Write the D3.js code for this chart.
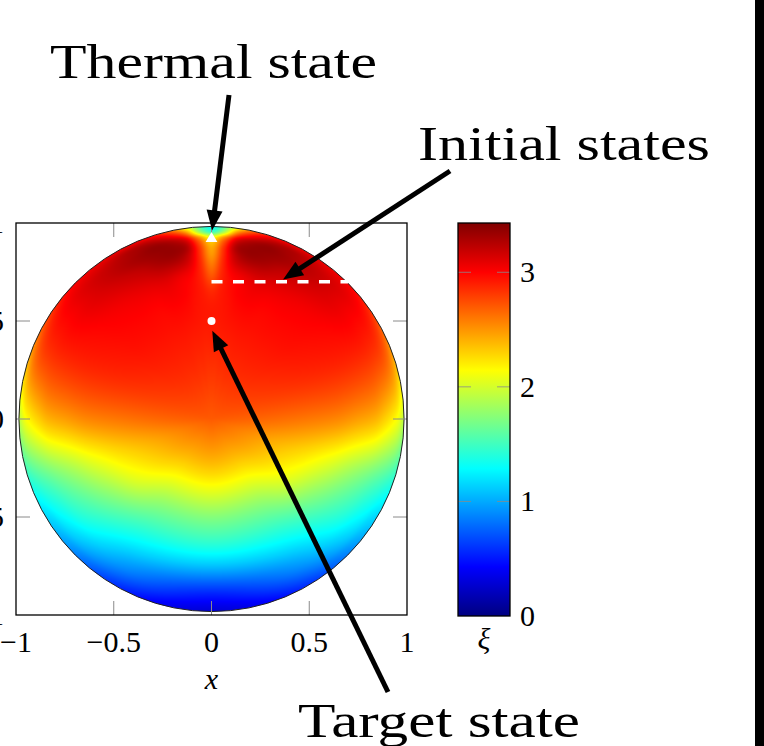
<!DOCTYPE html>
<html>
<head>
<meta charset="utf-8">
<script src="https://cdn.jsdelivr.net/npm/d3@7/dist/d3.min.js"></script>
<style>
html, body { margin: 0; padding: 0; background: #fff; overflow: hidden; }
svg { display: block; }
</style>
</head>
<body>
<svg class="chart"></svg>
<script>
//
// Cost landscape xi over the Bloch disc, drawn with D3 (image + SVG overlays).
//

// xi on a polar grid about the disc centre.
// Angle in degrees measured from the top (+y), mirrored for x < 0; radius as a fraction of the disc radius.
var gridAngles = [0, 4, 8, 12, 18, 25, 35, 50, 70, 90, 110, 130, 150, 180];
var gridRadii = [0, 0.25, 0.5, 0.65, 0.75, 0.85, 0.9, 0.94, 0.97, 1.0];
var xiGrid = [
    [2.70, 2.83, 2.92, 2.88, 2.70, 2.50, 2.40, 2.15, 1.50, 1.30], //   0 deg
    [2.70, 2.83, 2.92, 2.92, 2.88, 2.85, 2.80, 2.55, 1.90, 1.60], //   4
    [2.70, 2.84, 2.93, 2.96, 3.00, 3.18, 3.25, 3.05, 2.60, 2.10], //   8
    [2.70, 2.84, 2.94, 3.00, 3.05, 3.30, 3.35, 3.25, 2.95, 2.55], //  12
    [2.70, 2.85, 2.95, 3.02, 3.10, 3.30, 3.35, 3.35, 3.20, 2.90], //  18
    [2.70, 2.85, 2.95, 3.00, 3.08, 3.22, 3.30, 3.30, 3.25, 3.00], //  25
    [2.70, 2.85, 2.95, 3.00, 3.05, 3.15, 3.20, 3.20, 3.15, 3.05], //  35
    [2.70, 2.83, 2.93, 2.97, 3.00, 3.05, 3.05, 3.05, 3.02, 2.95], //  50
    [2.70, 2.77, 2.83, 2.85, 2.85, 2.83, 2.80, 2.75, 2.65, 2.45], //  70
    [2.70, 2.66, 2.60, 2.55, 2.48, 2.40, 2.30, 2.20, 2.10, 1.90], //  90
    [2.70, 2.50, 2.27, 2.06, 1.88, 1.70, 1.60, 1.52, 1.45, 1.38], // 110
    [2.70, 2.41, 2.03, 1.71, 1.52, 1.34, 1.22, 1.12, 1.02, 0.95], // 130
    [2.70, 2.34, 1.78, 1.47, 1.25, 1.00, 0.88, 0.76, 0.66, 0.56], // 150
    [2.70, 2.34, 1.75, 1.42, 1.12, 0.74, 0.56, 0.44, 0.35, 0.28]  // 180
];

var xTicks = [-1, -0.5, 0, 0.5, 1];
var yTicks = [-1, -0.5, 0, 0.5, 1];
var colorTicks = [0, 1, 2, 3];
var xiMax = 3.43;
var discRadius = 0.985;

var thermalState = [0, 0.92];
var targetState = [0, 0.5];
var initialStates = [[0, 0.7], [0.7, 0.7]];

var jetStops = [0, 0.125, 0.375, 0.625, 0.875, 1];
var jetColors = ["#000080", "#0000ff", "#00ffff", "#ffff00", "#ff0000", "#800000"];

var labelTexts = ["Thermal state", "Initial states", "Target state"];

function fmt (v) { // TeX-like tick labels with a real minus sign.
    return (v < 0 ? "\u2212" : "") + Math.abs(v);
}

function hermite (xs, vs, t, flatEnds) { // Smooth cubic through the grid values (flat ends for the mirrored angle axis).
    var n = xs.length;
    var i = Math.max(0, Math.min(n - 2, d3.bisectRight(xs, t) - 1));
    var h = xs[i + 1] - xs[i];
    var s = Math.max(0, Math.min(1, (t - xs[i]) / h));
    function slope (k) {
        if (k <= 0) return flatEnds ? 0 : (vs[1] - vs[0]) / (xs[1] - xs[0]);
        if (k >= n - 1) return flatEnds ? 0 : (vs[n - 1] - vs[n - 2]) / (xs[n - 1] - xs[n - 2]);
        return (vs[k + 1] - vs[k - 1]) / (xs[k + 1] - xs[k - 1]);
    }
    var m0 = slope(i) * h, m1 = slope(i + 1) * h;
    var s2 = s * s, s3 = s2 * s;
    return (2 * s3 - 3 * s2 + 1) * vs[i] + (s3 - 2 * s2 + s) * m0 +
        (-2 * s3 + 3 * s2) * vs[i + 1] + (s3 - s2) * m1;
}

function xiAt (angle, rho) { // Along the radius for each angle row, then across the angles.
    var col = xiGrid.map(function (row) { return hermite(gridRadii, row, rho, false); });
    return hermite(gridAngles, col, angle, true);
}

window.onload = function () {

    var width = 764, height = 746;

    var svg = d3.select("svg.chart")
        .attr("width", width)
        .attr("height", height)
        .style("font-family", "'Liberation Serif', 'DejaVu Serif', serif");

    var x = d3.scaleLinear().domain([-1, 1]).range([16, 407]);
    var y = d3.scaleLinear().domain([-1, 1]).range([615, 223]);
    var c = d3.scaleLinear().domain([0, xiMax]).range([616, 223]);

    var color = d3.scaleLinear()
        .domain(jetStops.map(function (t) { return t * xiMax; }))
        .range(jetColors)
        .clamp(true);

    // Field image, computed pixel by pixel from the grid.
    var w = Math.round(x(1) - x(-1)), h = Math.round(y(-1) - y(1));
    var canvas = document.createElement("canvas");
    canvas.width = w; canvas.height = h;
    var ctx = canvas.getContext("2d");
    var img = ctx.createImageData(w, h);
    var lut = d3.range(1024).map(function (k) { return d3.rgb(color(k / 1023 * xiMax)); });
    for (var j = 0; j < h; j++) {
        for (var i = 0; i < w; i++) {
            var px = x.invert(x(-1) + i + 0.5), py = y.invert(y(1) + j + 0.5);
            var rho = Math.hypot(px, py) / discRadius;
            if (rho > 1.03) continue;
            var ang = Math.atan2(Math.abs(px), py) * 180 / Math.PI;
            var v = xiAt(ang, Math.min(rho, 1));
            var col = lut[Math.max(0, Math.min(1023, Math.round(v / xiMax * 1023)))];
            var k = (j * w + i) * 4;
            img.data[k] = col.r; img.data[k + 1] = col.g; img.data[k + 2] = col.b; img.data[k + 3] = 255;
        }
    }
    ctx.putImageData(img, 0, 0);

    var defs = svg.append("defs");
    defs.append("clipPath").attr("id", "disc")
        .append("circle")
            .attr("cx", x(0)).attr("cy", y(0))
            .attr("r", x(discRadius) - x(0));

    svg.append("image")
        .attr("x", x(-1)).attr("y", y(1))
        .attr("width", w).attr("height", h)
        .attr("clip-path", "url(#disc)")
        .attr("href", canvas.toDataURL());

    svg.append("circle") // Disc outline.
        .attr("cx", x(0)).attr("cy", y(0))
        .attr("r", x(discRadius) - x(0))
        .attr("fill", "none")
        .attr("stroke", "#222")
        .attr("stroke-width", 1);

    // Tick marks on all four sides, pgfplots style.
    var tickLen = 14;
    var inner = [-0.5, 0, 0.5];
    var tickG = svg.append("g").attr("stroke", "#8a8a8a").attr("stroke-width", 1);
    inner.forEach(function (t) {
        tickG.append("line").attr("x1", x(t)).attr("x2", x(t)).attr("y1", y(-1)).attr("y2", y(-1) - tickLen);
        tickG.append("line").attr("x1", x(t)).attr("x2", x(t)).attr("y1", y(1)).attr("y2", y(1) + tickLen);
        tickG.append("line").attr("y1", y(t)).attr("y2", y(t)).attr("x1", x(-1)).attr("x2", x(-1) + tickLen);
        tickG.append("line").attr("y1", y(t)).attr("y2", y(t)).attr("x1", x(1)).attr("x2", x(1) - tickLen);
    });

    svg.append("rect") // Axis box.
        .attr("x", x(-1)).attr("y", y(1))
        .attr("width", x(1) - x(-1)).attr("height", y(-1) - y(1))
        .attr("fill", "none")
        .attr("stroke", "#000")
        .attr("stroke-width", 1.3);

    svg.append("g").selectAll("text") // x tick labels.
        .data(xTicks)
        .enter().append("text")
            .attr("x", function (d) { return x(d); })
            .attr("y", 652)
            .attr("text-anchor", "middle")
            .attr("font-size", 30)
            .text(fmt);

    svg.append("g").selectAll("text") // y tick labels, mostly outside the frame on the left as in the source.
        .data(yTicks)
        .enter().append("text")
            .attr("x", 4)
            .attr("y", function (d) { return y(d) + 10; })
            .attr("text-anchor", "end")
            .attr("font-size", 30)
            .text(fmt);

    svg.append("text")
        .attr("x", x(0)).attr("y", 689)
        .attr("text-anchor", "middle")
        .attr("font-size", 30)
        .attr("font-style", "italic")
        .text("x");

    // Initial states (dashed), thermal state (triangle) and target state (dot).
    svg.append("line")
        .attr("x1", x(initialStates[0][0])).attr("y1", y(initialStates[0][1]))
        .attr("x2", x(initialStates[1][0])).attr("y2", y(initialStates[1][1]))
        .attr("stroke", "#fff")
        .attr("stroke-width", 3.5)
        .attr("stroke-dasharray", "11,10.5");

    svg.append("path")
        .attr("d", d3.symbol().type(d3.symbolTriangle).size(60))
        .attr("transform", "translate(" + x(thermalState[0]) + "," + y(thermalState[1]) + ")")
        .attr("fill", "#fff");

    svg.append("circle")
        .attr("cx", x(targetState[0])).attr("cy", y(targetState[1]))
        .attr("r", 4)
        .attr("fill", "#fff");

    // Colour bar.
    var grad = defs.append("linearGradient").attr("id", "jet")
        .attr("x1", 0).attr("y1", 1).attr("x2", 0).attr("y2", 0);
    grad.selectAll("stop")
        .data(jetStops)
        .enter().append("stop")
            .attr("offset", function (d) { return d; })
            .attr("stop-color", function (d, i) { return jetColors[i]; });

    var cbX = 458, cbW = 52;
    svg.append("rect")
        .attr("x", cbX).attr("y", c(xiMax))
        .attr("width", cbW).attr("height", c(0) - c(xiMax))
        .attr("fill", "url(#jet)");

    var cbTicks = svg.append("g").attr("stroke", "#8a8a8a").attr("stroke-width", 1).attr("stroke-opacity", 0.8);
    colorTicks.slice(1).forEach(function (t) {
        cbTicks.append("line").attr("x1", cbX).attr("x2", cbX + 13).attr("y1", c(t)).attr("y2", c(t));
        cbTicks.append("line").attr("x1", cbX + cbW - 13).attr("x2", cbX + cbW).attr("y1", c(t)).attr("y2", c(t));
    });

    svg.append("rect")
        .attr("x", cbX).attr("y", c(xiMax))
        .attr("width", cbW).attr("height", c(0) - c(xiMax))
        .attr("fill", "none")
        .attr("stroke", "#000")
        .attr("stroke-width", 1.3);

    svg.append("g").selectAll("text")
        .data(colorTicks)
        .enter().append("text")
            .attr("x", cbX + cbW + 10)
            .attr("y", function (d) { return c(d) + 10; })
            .attr("font-size", 30)
            .text(fmt);

    svg.append("text")
        .attr("x", cbX + cbW / 2).attr("y", 649)
        .attr("text-anchor", "middle")
        .attr("font-size", 30)
        .attr("font-style", "italic")
        .text("\u03be");

    // Annotations: arrows from the labels to the marked states.
    function arrow (from, to) {
        var dx = to[0] - from[0], dy = to[1] - from[1];
        var len = Math.hypot(dx, dy), ux = dx / len, uy = dy / len;
        var headLen = 20, headHalf = 8;
        var bx = to[0] - ux * headLen, by = to[1] - uy * headLen;
        svg.append("line")
            .attr("x1", from[0]).attr("y1", from[1])
            .attr("x2", bx + ux * 2).attr("y2", by + uy * 2)
            .attr("stroke", "#000")
            .attr("stroke-width", 5);
        svg.append("path")
            .attr("d", "M" + to[0] + "," + to[1] +
                "L" + (bx - uy * headHalf) + "," + (by + ux * headHalf) +
                "L" + (bx + uy * headHalf) + "," + (by - ux * headHalf) + "Z")
            .attr("fill", "#000");
    }

    arrow([229, 95], [x(0.003), y(0.962)]);
    arrow([450, 171], [x(0.366), y(0.712)]);
    arrow([388, 692], [x(0.004), y(0.45)]);

    var labelPos = [[50, 78, 327], [418, 160, 292], [298, 737, 282]];
    svg.append("g").selectAll("text")
        .data(labelTexts)
        .enter().append("text")
            .attr("x", function (d, i) { return labelPos[i][0]; })
            .attr("y", function (d, i) { return labelPos[i][1]; })
            .attr("font-size", 48)
            .attr("textLength", function (d, i) { return labelPos[i][2]; })
            .attr("lengthAdjust", "spacingAndGlyphs")
            .text(function (d) { return d; });

    svg.append("rect") // Black strip on the right edge.
        .attr("x", 755).attr("y", 0)
        .attr("width", width - 755).attr("height", height)
        .attr("fill", "#000");
};
</script>
</body>
</html>
